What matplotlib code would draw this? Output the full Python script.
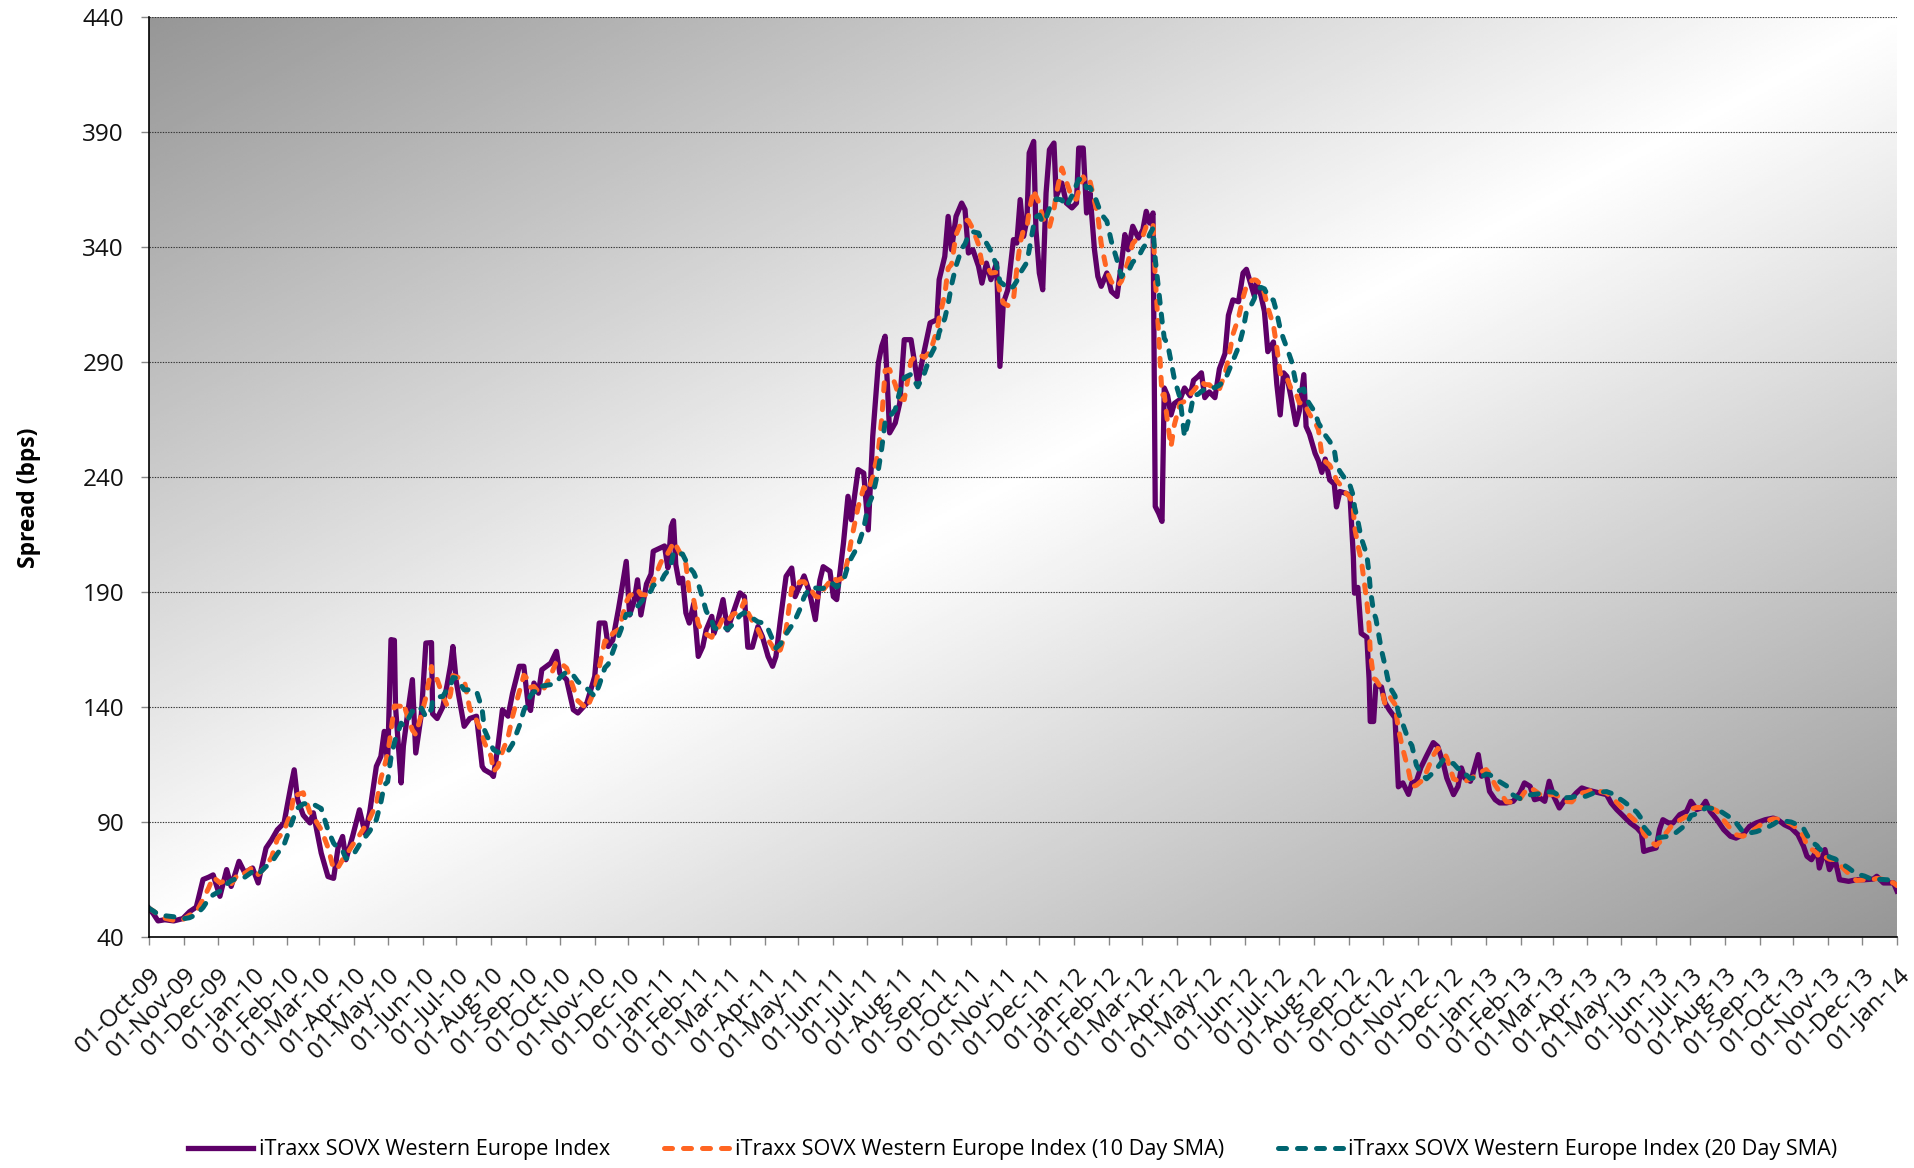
import numpy as np
import pandas as pd
import matplotlib
matplotlib.use("Agg")
from matplotlib import pyplot as plt
import matplotlib.dates as mdates
import matplotlib.transforms as mtransforms

plt.rcParams["font.family"] = ["Open Sans", "DejaVu Sans"]

# iTraxx SOVX Western Europe
# day offsets counted from 01-Oct-2009, spread in bps
start_date = "2009-10-01"
day_offset = [
    0, 4, 8, 14, 22, 30, 36, 42, 48, 53, 57, 63, 69, 73, 80, 85, 92, 97,
    104, 109, 114, 120, 126, 129, 132, 137, 143, 146, 153, 159, 164, 168,
    172, 175, 181, 187, 192, 196, 202, 206, 209, 212, 215, 218, 219, 224,
    226, 230, 234, 237, 242, 246, 251, 252, 256, 261, 265, 268, 270, 273,
    280, 285, 291, 296, 298, 304, 306, 310, 314, 319, 323, 329, 333, 337,
    339, 342, 346, 349, 357, 362, 365, 371, 377, 381, 389, 396, 400, 405,
    408, 412, 417, 419, 424, 427, 431, 434, 437, 442, 446, 448, 454, 458,
    461, 464, 466, 468, 471, 474, 477, 480, 484, 488, 492, 495, 500, 502,
    505, 510, 514, 519, 525, 529, 532, 536, 541, 545, 550, 554, 557, 561,
    566, 571, 574, 578, 582, 587, 592, 596, 599, 603, 605, 608, 611, 617,
    621, 624, 630, 635, 639, 643, 648, 651, 654, 658, 663, 667, 671, 677,
    683, 689, 694, 700, 702, 707, 710, 713, 717, 722, 725, 728, 732, 737,
    740, 744, 748, 753, 756, 759, 763, 768, 771, 774, 777, 780, 782, 786,
    788, 791, 794, 797, 800, 804, 806, 811, 815, 820, 824, 826, 830, 833,
    836, 840, 843, 846, 851, 855, 860, 864, 867, 870, 874, 879, 883, 886,
    889, 892, 894, 897, 900, 902, 905, 908, 911, 916, 920, 925, 928, 932,
    935, 938, 942, 947, 951, 956, 959, 963, 968, 972, 975, 978, 982, 984,
    988, 991, 994, 999, 1002, 1005, 1008, 1011, 1015, 1019, 1022, 1026,
    1028, 1031, 1036, 1039, 1042, 1045, 1049, 1053, 1055, 1058, 1064, 1067,
    1070, 1071, 1074, 1077, 1082, 1084, 1085, 1088, 1090, 1095, 1098, 1102,
    1107, 1110, 1114, 1119, 1122, 1126, 1130, 1135, 1141, 1145, 1150, 1153,
    1159, 1163, 1166, 1169, 1174, 1176, 1181, 1184, 1188, 1191, 1196, 1200,
    1206, 1212, 1218, 1222, 1227, 1231, 1236, 1240, 1244, 1248, 1253, 1258,
    1264, 1268, 1273, 1277, 1283, 1289, 1295, 1299, 1304, 1310, 1316, 1322,
    1326, 1328, 1333, 1339, 1342, 1345, 1350, 1354, 1360, 1366, 1370, 1375,
    1379, 1383, 1387, 1393, 1399, 1405, 1410, 1416, 1422, 1428, 1436, 1443,
    1447, 1453, 1459, 1465, 1470, 1473, 1477, 1482, 1484, 1489, 1493, 1498,
    1502, 1510, 1517, 1524, 1532, 1535, 1541, 1550, 1553,
]
spread = [
    52.5, 50, 47, 47.5, 47, 48, 51, 53, 65, 66, 67, 57.7, 69.3, 62, 72.9, 68, 70, 63.5,
    78.7, 82.3, 86.6, 89.6, 105.5, 112.7, 99.7, 93, 89.6, 94, 76.5, 66.3, 65.5, 79,
    83.7, 73.6, 84, 95.3, 85, 94, 114.2, 118.5, 129.4, 116, 169.3, 169, 140.3, 107,
    123, 138, 151.9, 120, 137, 167.8, 168, 137, 135, 140, 150, 158.4, 166.3, 151,
    131.6, 135, 136, 114.2, 112.7, 111, 109.8, 122.9, 138.8, 136, 146, 157.7, 157.7, 140.3,
    138.5, 150.4, 146, 156.2, 159.1, 164.2, 154.7, 151.9, 138.8, 137.4, 141.7, 153.3, 176.5, 176.5,
    166.3, 169, 182.3, 188.1, 203.3, 180, 186, 195.3, 180, 193.5, 197.8, 207.7, 209.1, 210,
    200.5, 218.5, 221, 202, 193.9, 196, 180.9, 176.5, 185, 162, 166.3, 173.5, 179.4, 172,
    176.5, 186.7, 173.5, 181, 189.6, 188, 166, 166, 175, 170.6, 162, 157.7, 162, 178,
    196.8, 200.4, 188, 192.5, 197, 189.6, 178, 195, 201, 199.7, 199, 188, 186.7, 211.3,
    231.6, 221.4, 243.2, 241.7, 217, 257.7, 289.6, 296.9, 301.2, 259.2, 263.5, 272.2, 299.7, 299.7,
    280.9, 295.4, 307, 308.4, 325.8, 335.9, 353.3, 338.8, 353.3, 359.1, 356.2, 337.4, 338.8, 331.6,
    324.3, 333, 325.8, 333, 288.1, 315.6, 321.4, 343.2, 341.7, 360.6, 344.6, 351.9, 380.9, 385.9,
    347.5, 328.7, 321.4, 363.5, 382.3, 385.2, 362, 367.8, 359.1, 357, 359.1, 383, 383, 354.8,
    363.5, 338.8, 327.2, 322.9, 328.7, 320.7, 318.5, 333, 345.4, 338.8, 349, 343.9, 347.5, 355.5,
    350.4, 354.8, 227.2, 224.3, 220.7, 278.7, 275.3, 267, 272, 273.7, 278.7, 275.3, 282, 283.7,
    285.3, 274.5, 277, 274.5, 287, 293.7, 310.3, 317, 316.2, 328.7, 330.3, 325.3, 318.7, 324.5,
    318.7, 312, 294.5, 298.7, 280.3, 267, 285.3, 283.7, 273.7, 262.8, 268.7, 284.5,
    262, 258.7, 250.3, 247, 242, 247.8, 238.7, 237, 227, 233.7, 232.8, 232,
    205.3, 189.5, 192, 172, 170.3, 152, 133.7, 133.7, 149.5, 148.7, 142, 138.7,
    135.3, 105.3, 107, 102, 107, 107.8, 113.7, 118.7, 124.5, 122.8, 115.3, 109.1,
    101.9, 105.5, 113.5, 109.1, 107.7, 110.6, 119.3, 109.9, 111.3, 103.3, 99.7, 98.3,
    98.3, 99, 102.6, 107, 105.5, 99.7, 100.4, 99, 107.7, 101.2, 96.1, 99.7,
    100.4, 102.6, 104.8, 104.1, 103.3, 102.6, 101.9, 98.3, 95.4, 92.5, 89.6, 87.4,
    85.2, 77.2, 78, 78.7, 86.7, 91, 89.6, 89.6, 93.2, 94.6, 99, 95.4,
    96.1, 99, 94.6, 91, 86.7, 83.8, 83, 84.5, 88.1, 89.6, 91, 91.7,
    91, 88.8, 87.4, 84.5, 79.4, 75.1, 73.6, 78, 70, 78, 69.3, 73.6,
    64.9, 64.2, 64.9, 64.9, 65.2, 66.4, 63.5, 63.5, 60,
]
series_names = [
    "iTraxx SOVX Western Europe Index",
    "iTraxx SOVX Western Europe Index (10 Day SMA)",
    "iTraxx SOVX Western Europe Index (20 Day SMA)",
]
y_ticks = list(range(40, 441, 50))

dates = pd.Timestamp(start_date) + pd.to_timedelta(day_offset, unit="D")
s = pd.Series(spread, index=dates)
# 10 / 20 trading days ~ 14 / 28 calendar days
sma10 = s.rolling("14D").mean()
sma20 = s.rolling("28D").mean()

fig = plt.figure(figsize=(19.15, 11.68), dpi=100)
ax = fig.add_axes([149 / 1915, 1 - 937 / 1168, (1897 - 149) / 1915, (937 - 17) / 1168])

# diagonal grey-white-grey background
gx, gy = np.meshgrid(np.linspace(0, 1, 400), np.linspace(0, 1, 400))
shade = 1 - np.abs(gx + gy - 1)
grey = 0.59 + 0.41 * shade
ax.imshow(grey, cmap="gray", vmin=0, vmax=1, extent=[0, 1, 0, 1],
          transform=ax.transAxes, aspect="auto", origin="upper",
          interpolation="bilinear", zorder=0)

ax.plot(s.index, s.values, color="#5e0068", lw=3.8, solid_joinstyle="round",
        label=series_names[0], zorder=3)
ax.plot(sma10.index, sma10.values, color="#ff6522", lw=3.6, dashes=(1.6, 2.2),
        dash_capstyle="round", label=series_names[1], zorder=4)
ax.plot(sma20.index, sma20.values, color="#006570", lw=3.6, dashes=(1.6, 2.2),
        dash_capstyle="round", label=series_names[2], zorder=5)

ax.set_xlim(pd.Timestamp("2009-10-01"), pd.Timestamp("2014-01-01"))
ax.set_ylim(40, 440)
ax.set_yticks(y_ticks)
ax.yaxis.grid(True, linestyle=(0, (1.2, 1.2)), color="#333333", lw=0.8, zorder=1)
ax.set_axisbelow(False)

ax.xaxis.set_major_locator(mdates.MonthLocator(bymonthday=1))
ax.xaxis.set_major_formatter(mdates.DateFormatter("%d-%b-%y"))

for side in ["top", "right"]:
    ax.spines[side].set_visible(False)
for side in ["left", "bottom"]:
    ax.spines[side].set_color("black")
    ax.spines[side].set_linewidth(1.2)
    ax.spines[side].set_zorder(6)

ax.tick_params(axis="both", direction="out", length=6, width=1, color="#888888",
               labelsize=17.5, labelcolor="#111111")
ax.tick_params(axis="y", pad=12)
ax.tick_params(axis="x", pad=19)
shift = mtransforms.ScaledTranslation(0.09, 0, fig.dpi_scale_trans)
for lab in ax.get_xticklabels():
    lab.set_rotation(45)
    lab.set_ha("right")
    lab.set_va("center")
    lab.set_rotation_mode("anchor")
    lab.set_transform(lab.get_transform() + shift)

fig.text(29 / 1915, 1 - 498 / 1168, "Spread (bps)", rotation=90, ha="center",
         va="center", fontsize=16.5, fontweight="bold")

fig.legend(loc="center", bbox_to_anchor=(0.529, 1 - 1150 / 1168), ncol=3,
           frameon=False, fontsize=15.6, handlelength=3.0, handletextpad=0.25,
           columnspacing=2.5)

fig.savefig("out.png", dpi=100)
